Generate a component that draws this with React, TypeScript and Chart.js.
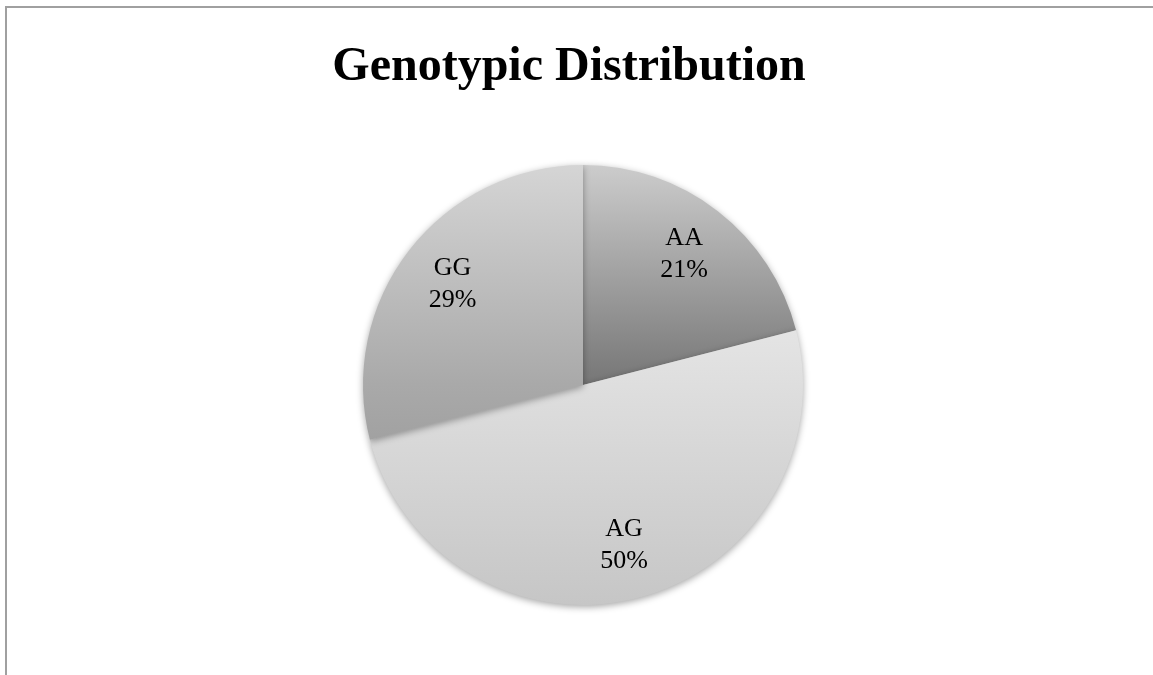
import React, { useEffect, useRef } from "react";
import { Chart, registerables } from "chart.js";

Chart.register(...registerables);

const categories = ["AA", "AG", "GG"];
const percentValues = [21, 50, 29];
const percentLabels = ["21%", "50%", "29%"];
const chartTitle = "Genotypic Distribution";

const gradientStops: [number, string][][] = [
  [[0, "#cccccc"], [0.5, "#767676"], [1, "#555555"]],
  [[0, "#efefef"], [0.4, "#e3e3e3"], [1, "#c6c6c6"]],
  [[0, "#d5d5d5"], [0.5, "#a9a9a9"], [1, "#8a8a8a"]],
];

export default function App() {
  const ref = useRef<HTMLCanvasElement>(null);
  useEffect(() => {
    if (!ref.current) return;
    const labelPlugin = {
      id: "sliceLabels",
      beforeDatasetsDraw(chart: any) {
        const ctx = chart.ctx;
        ctx.save();
        ctx.shadowColor = "rgba(0,0,0,0.35)";
        ctx.shadowBlur = 7;
        ctx.shadowOffsetY = 2;
      },
      afterDatasetsDraw(chart: any) {
        const ctx = chart.ctx;
        ctx.restore();
        const meta = chart.getDatasetMeta(0);
        ctx.save();
        ctx.fillStyle = "#000";
        ctx.font = "26px 'Liberation Serif', serif";
        ctx.textAlign = "center";
        ctx.textBaseline = "middle";
        meta.data.forEach((arc: any, i: number) => {
          const p = arc.getProps(["x", "y", "startAngle", "endAngle", "outerRadius"], true);
          const mid = (p.startAngle + p.endAngle) / 2;
          const r = p.outerRadius * 0.75;
          const x = p.x + Math.cos(mid) * r;
          const y = p.y + Math.sin(mid) * r;
          ctx.fillText(categories[i], x, y - 16);
          ctx.fillText(percentLabels[i], x, y + 16);
        });
        ctx.restore();
      },
      afterDraw(chart: any) {
        const ctx = chart.ctx;
        ctx.save();
        ctx.fillStyle = "#000";
        ctx.font = "bold 48px 'Liberation Serif', serif";
        ctx.textAlign = "center";
        ctx.textBaseline = "middle";
        ctx.fillText(chartTitle, 569, 68);
        ctx.restore();
      },
    };
    const chart = new Chart(ref.current, {
      type: "pie",
      data: {
        labels: categories,
        datasets: [
          {
            data: percentValues,
            borderWidth: 0,
            backgroundColor: (c: any) => {
              const area = c.chart.chartArea;
              if (!area) return "#bbb";
              const g = c.chart.ctx.createLinearGradient(0, area.top, 0, area.bottom);
              gradientStops[c.dataIndex].forEach(([o, col]) => g.addColorStop(o, col));
              return g;
            },
          },
        ],
      },
      options: {
        responsive: false,
        animation: false,
        layout: { padding: { top: 165, bottom: 70, left: 13, right: 0 } },
        plugins: {
          legend: { display: false },
          tooltip: { enabled: false },
          title: { display: false },
        },
      },
      plugins: [labelPlugin],
    });
    return () => chart.destroy();
  }, []);
  return (
    <div style={{ position: "fixed", left: 0, top: 0, width: 1153, height: 675, background: "#fff" }}>
      <div
        style={{
          position: "absolute",
          left: 5,
          top: 6,
          width: 1148,
          height: 669,
          borderLeft: "2px solid #a0a0a0",
          borderTop: "2px solid #a0a0a0",
          boxSizing: "border-box",
        }}
      />
      <canvas ref={ref} width={1153} height={675} style={{ position: "absolute", left: 0, top: 0 }} />
    </div>
  );
}
